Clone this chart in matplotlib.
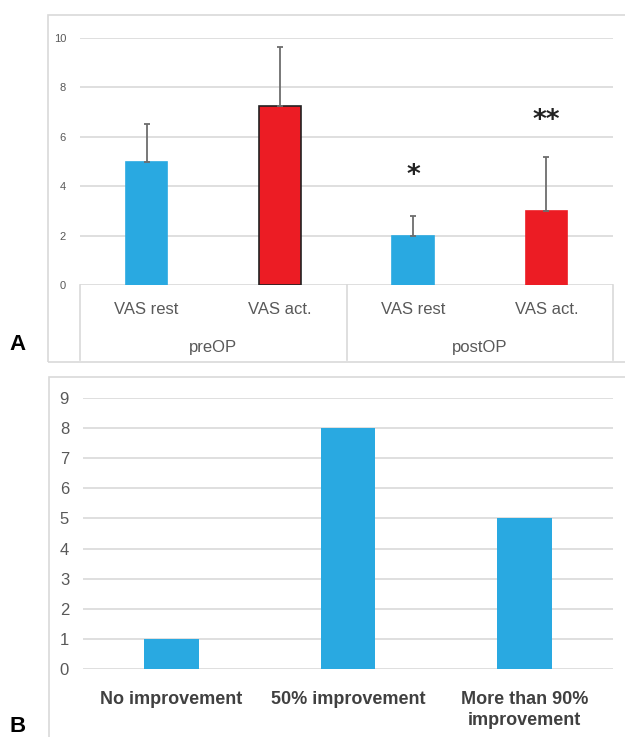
import matplotlib.pyplot as plt
from matplotlib.patches import Rectangle
from matplotlib.transforms import blended_transform_factory

plt.rcParams['font.family'] = ['Liberation Sans', 'DejaVu Sans']

# panel A data
vas_labels = ["VAS rest", "VAS act.", "VAS rest", "VAS act."]
group_labels = ["preOP", "postOP"]
vas_means = [5.0, 7.25, 2.0, 3.0]
vas_err = [1.5, 2.4, 0.8, 2.2]
vas_colors = ["#29A9E1", "#EC1C24", "#29A9E1", "#EC1C24"]
vas_edges = ["#29A9E1", "#222222", "#29A9E1", "#EC1C24"]
signif = ["", "", "*", "**"]
signif_y = [0, 0, 4.4, 6.65]

# panel B data
imp_labels = ["No improvement", "50% improvement", "More than 90%\nimprovement"]
imp_counts = [1, 8, 5]

grid_c = "#D9D9D9"
tick_c = "#595959"
W, H = 625, 737

fig = plt.figure(figsize=(6.25, 7.37), dpi=100)

def fx(px):
    return px / W

def fy(py):
    return 1 - py / H

# outer frames
fig.patches.append(Rectangle((fx(48), fy(362)), fx(640) - fx(48), fy(15) - fy(362),
                             transform=fig.transFigure, fill=False, ec=grid_c, lw=1.2))
fig.patches.append(Rectangle((fx(49), fy(760)), fx(640) - fx(49), fy(377) - fy(760),
                             transform=fig.transFigure, fill=False, ec=grid_c, lw=1.2))

# ---- panel A ----
ax1 = fig.add_axes([fx(80), fy(285), fx(613) - fx(80), fy(38) - fy(285)])
x1 = list(range(len(vas_means)))
ax1.bar(x1, vas_means, width=0.31, color=vas_colors, edgecolor=vas_edges, linewidth=1.2, zorder=3)
ax1.errorbar(x1, vas_means, yerr=[[0] * len(vas_err), vas_err], fmt='none',
             ecolor="#6d6d6d", elinewidth=1.3, capsize=2.5, capthick=1.3, zorder=4)
for xi, s, sy in zip(x1, signif, signif_y):
    if s:
        ax1.text(xi, sy, s, ha='center', va='center', fontsize=19, fontweight='bold',
                 color='#222222', family='DejaVu Sans')
ax1.set_xlim(-0.5, 3.5)
ax1.set_ylim(0, 10)
ax1.set_yticks(range(0, 11, 2))
ax1.yaxis.grid(True, color=grid_c, lw=1.2)
ax1.set_axisbelow(True)
for sp in ax1.spines.values():
    sp.set_visible(False)
ax1.tick_params(axis='y', length=0, labelsize=8, labelcolor=tick_c, pad=10)
ax1.set_xticks([])
ax1.patch.set_alpha(0)

depth = (362 - 285) / 247
trans = blended_transform_factory(ax1.transData, ax1.transAxes)
for xv in [-0.5, 1.5, 3.5]:
    ax1.plot([xv, xv], [0, -depth + 0.01], transform=trans, color=grid_c, lw=1.2, clip_on=False)
for xi, lab in zip(x1, vas_labels):
    ax1.text(xi, -0.1, lab, transform=trans, ha='center', va='center', fontsize=12, color=tick_c)
for gi, lab in enumerate(group_labels):
    ax1.text(gi * 2 + 0.5, -0.255, lab, transform=trans, ha='center', va='center',
             fontsize=12, color=tick_c)

# ---- panel B ----
ax2 = fig.add_axes([fx(83), fy(669), fx(613) - fx(83), fy(398) - fy(669)])
x2 = list(range(len(imp_counts)))
ax2.bar(x2, imp_counts, width=0.31, color="#29A9E1", zorder=3)
ax2.set_xlim(-0.5, 2.5)
ax2.set_ylim(0, 9)
ax2.set_yticks(range(0, 10))
ax2.yaxis.grid(True, color=grid_c, lw=1.2)
ax2.set_axisbelow(True)
for sp in ax2.spines.values():
    sp.set_visible(False)
ax2.tick_params(axis='y', length=0, labelsize=12, labelcolor=tick_c, pad=10)
ax2.set_xticks(x2)
ax2.set_xticklabels(imp_labels, fontsize=13, fontweight='bold', color='#404040', linespacing=1.3)
ax2.tick_params(axis='x', length=0, pad=16)
ax2.patch.set_alpha(0)

# panel letters
fig.text(fx(18), fy(345), "A", fontsize=16, fontweight='bold', ha='center', va='center')
fig.text(fx(18), fy(727), "B", fontsize=16, fontweight='bold', ha='center', va='center')

fig.savefig("out.png", dpi=100)
